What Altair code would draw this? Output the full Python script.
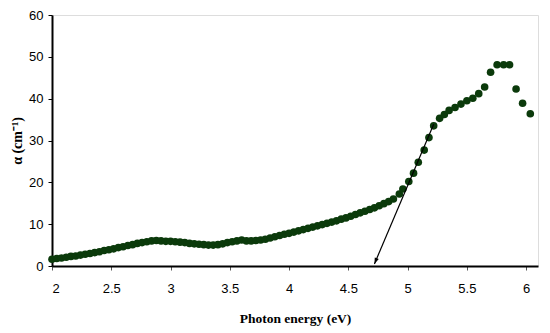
import altair as alt
import pandas as pd

energy = [2.00, 2.04, 2.08, 2.12, 2.16, 2.20, 2.24, 2.28, 2.32, 2.36,
          2.40, 2.44, 2.48, 2.52, 2.56, 2.60, 2.64, 2.68, 2.72, 2.76,
          2.80, 2.84, 2.88, 2.92, 2.96, 3.00, 3.04, 3.08, 3.12, 3.16,
          3.20, 3.24, 3.28, 3.32, 3.36, 3.40, 3.44, 3.48, 3.52, 3.56,
          3.60, 3.64, 3.68, 3.72, 3.76, 3.80, 3.84, 3.88, 3.92, 3.96,
          4.00, 4.04, 4.08, 4.12, 4.16, 4.20, 4.24, 4.28, 4.32, 4.36,
          4.40, 4.44, 4.48, 4.52, 4.56, 4.60, 4.64, 4.68, 4.72, 4.76,
          4.80, 4.84, 4.88, 4.93, 4.96, 5.01, 5.05, 5.09, 5.14, 5.18,
          5.22, 5.27, 5.31, 5.35, 5.40, 5.45, 5.50, 5.55, 5.60, 5.65,
          5.70, 5.755, 5.81, 5.86, 5.915, 5.97, 6.035]
alpha = [1.6, 1.8, 1.9, 2.1, 2.3, 2.4, 2.6, 2.8, 3.0, 3.2,
         3.4, 3.7, 3.9, 4.1, 4.4, 4.6, 4.9, 5.1, 5.4, 5.6,
         5.8, 6.0, 6.1, 6.0, 5.9, 5.9, 5.8, 5.7, 5.6, 5.4,
         5.3, 5.2, 5.1, 5.0, 5.0, 5.1, 5.3, 5.6, 5.8, 6.0,
         6.2, 6.0, 6.0, 6.1, 6.2, 6.4, 6.7, 7.0, 7.3, 7.6,
         7.8, 8.1, 8.4, 8.7, 9.0, 9.3, 9.6, 9.9, 10.2, 10.5,
         10.8, 11.2, 11.5, 11.9, 12.3, 12.7, 13.1, 13.5, 13.9, 14.4,
         14.9, 15.4, 16.0, 17.2, 18.4, 20.2, 22.2, 24.8, 27.7, 30.7,
         33.5, 35.3, 36.2, 37.2, 37.9, 38.7, 39.5, 40.1, 41.2, 42.8,
         46.3, 48.1, 48.1, 48.1, 42.3, 38.9, 36.4]

arrow_start = [5.22, 33.9]
arrow_end = [4.72, 0.5]

x_ticks = [2, 2.5, 3, 3.5, 4, 4.5, 5, 5.5, 6]
y_ticks = [0, 10, 20, 30, 40, 50, 60]

df = pd.DataFrame({"E": energy, "a": alpha})
arrow_df = pd.DataFrame({"x": [arrow_start[0]], "y": [arrow_start[1]],
                         "x2": [arrow_end[0]], "y2": [arrow_end[1]]})
head_df = pd.DataFrame({"x": [arrow_end[0]], "y": [arrow_end[1]]})

xscale = alt.Scale(domain=[2, 6.1], nice=False, zero=False)
yscale = alt.Scale(domain=[0, 60], nice=False)

xaxis = alt.Axis(values=x_ticks, format=".1~f", title="Photon energy (eV)",
                 grid=False, tickSize=4, labelPadding=12, titlePadding=16,
                 labelFont="Liberation Sans", labelFontSize=13,
                 titleFont="Liberation Serif", titleFontSize=13.5,
                 titleFontWeight="bold", domainColor="black", domainWidth=2,
                 tickColor="#555555", labelColor="black", titleColor="black")
yaxis = alt.Axis(values=y_ticks, title="α  (cm⁻¹)", grid=False, tickSize=4,
                 labelPadding=5, titlePadding=4,
                 labelFont="Liberation Sans", labelFontSize=13,
                 titleFont="Liberation Serif", titleFontSize=14,
                 titleFontWeight="bold", domainColor="black", domainWidth=2,
                 tickColor="black", labelColor="black", titleColor="black")

points = alt.Chart(df).mark_circle(size=58, color="#0b3a0b", opacity=1).encode(
    x=alt.X("E:Q", scale=xscale, axis=xaxis),
    y=alt.Y("a:Q", scale=yscale, axis=yaxis),
)

line = alt.Chart(arrow_df).mark_rule(color="black", strokeWidth=1.2).encode(
    x=alt.X("x:Q", scale=xscale), y=alt.Y("y:Q", scale=yscale),
    x2="x2:Q", y2="y2:Q",
)

head = alt.Chart(head_df).mark_point(
    shape="M0,0 L-0.35,1 L0.35,1 Z", filled=True, color="black",
    size=150, angle=202.7, opacity=1,
).encode(x=alt.X("x:Q", scale=xscale), y=alt.Y("y:Q", scale=yscale))

chart = alt.layer(points, line, head).properties(
    width=486, height=251,
    autosize=alt.AutoSizeParams(type="none"),
    padding={"left": 44, "top": 7, "right": 4, "bottom": 60},
).configure_view(stroke="black", strokeWidth=2).configure(background="white")

chart.save("out.html", embed_options={"renderer": "svg", "actions": False})
